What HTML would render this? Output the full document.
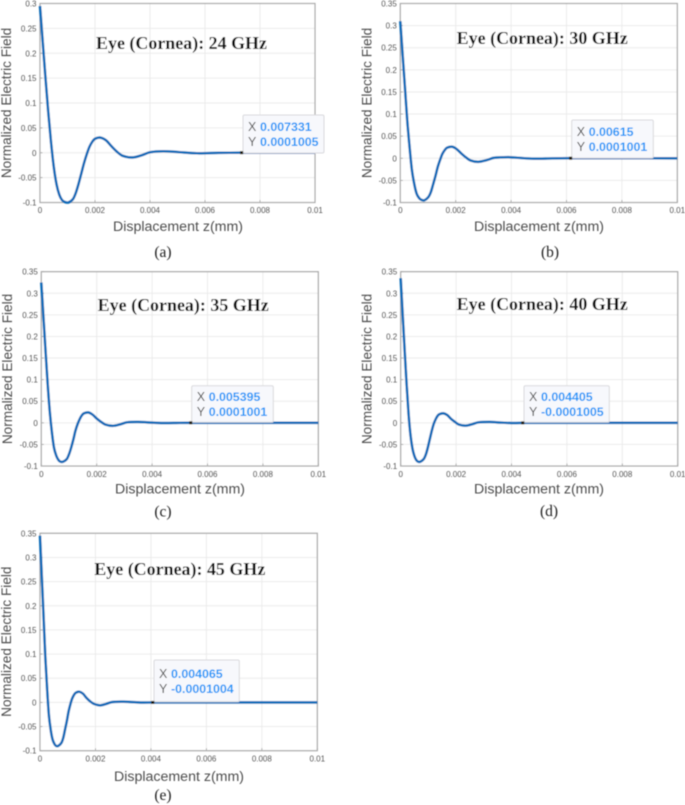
<!DOCTYPE html>
<html lang="en">
<head>
<meta charset="utf-8">
<title>Eye (Cornea) normalized electric field</title>
<style>
html,body{margin:0;padding:0;background:#fff;width:685px;height:805px;overflow:hidden}
svg{display:block}
text{font-family:"Liberation Sans",sans-serif}
.serif{font-family:"Liberation Serif",serif}
</style>
</head>
<body>
<svg id="figure" width="685" height="805" viewBox="0 0 685 805" xmlns="http://www.w3.org/2000/svg">
<defs><filter id="soft" x="-5%" y="-5%" width="110%" height="110%"><feGaussianBlur stdDeviation="0.45"/></filter></defs>
<g id="root" filter="url(#soft)"></g>
</svg>
<script>
const xTickLabels = ['0','0.002','0.004','0.006','0.008','0.01'];
const yTickLabels30 = ['-0.1','-0.05','0','0.05','0.1','0.15','0.2','0.25','0.3'];
const yTickLabels35 = ['-0.1','-0.05','0','0.05','0.1','0.15','0.2','0.25','0.3','0.35'];

const zA = [0,.0001,.0002,.0003,.0004,.0005,.0006,.0007,.0008,.0009,.00103,.0012,.0013,.0014,.0015,.0016,.0017,.0018,.0019,.002,.00218,.0024,.0026,.0028,.003,.00336,.0037,.004,.00448,.005,.0057,.0065,.0073,.01];
const fieldA = [.295,.222,.150,.082,.022,-.028,-.063,-.084,-.095,-.099,-.1,-.093,-.081,-.063,-.042,-.021,-.003,.012,.022,.028,.0305,.025,.013,.002,-.006,-.0095,-.005,.001,.003,.0015,-.001,-.0002,.0001,0];

const zB = [0,.000085,.00017,.00025,.00034,.00042,.00051,.00059,.00068,.00076,.00087,.00101,.0011,.00118,.00127,.00135,.00144,.00152,.00161,.00169,.00188,.00203,.0022,.00237,.00254,.00282,.00313,.00338,.0039,.00423,.00482,.00549,.00615,.01];
const fieldB = [.31,.233,.158,.086,.022,-.027,-.060,-.080,-.090,-.094,-.095,-.088,-.077,-.060,-.040,-.020,-.003,.010,.019,.024,.026,.021,.011,.002,-.005,-.008,-.004,.001,.0025,.0012,-.001,-.0002,.0001,0];

const zC = [0,.000077,.000154,.00023,.00031,.00039,.00046,.00054,.00062,.00069,.00079,.00092,.001,.00108,.00116,.00123,.00131,.00139,.00146,.00154,.0017,.00185,.002,.00216,.00231,.00258,.00285,.00308,.0035,.00385,.00439,.005,.0054,.01];
const fieldC = [.325,.245,.166,.090,.023,-.026,-.058,-.076,-.086,-.090,-.090,-.084,-.073,-.057,-.038,-.019,-.003,.009,.017,.022,.024,.019,.010,.002,-.004,-.007,-.0035,.001,.002,.001,-.0006,-.0001,.0001,0];

const zD = [0,.00007,.00014,.00021,.00028,.00035,.00042,.00049,.00056,.00063,.00071,.00083,.00091,.00098,.00105,.00112,.00119,.00126,.00133,.0014,.00154,.00168,.00182,.00196,.0021,.00235,.00259,.0028,.00322,.0035,.004,.0045,.0051,.01];
const fieldD = [.335,.252,.171,.093,.024,-.026,-.058,-.076,-.086,-.090,-.090,-.084,-.073,-.057,-.038,-.019,-.003,.008,.016,.020,.022,.018,.009,.002,-.004,-.0065,-.003,.001,.002,.001,-.0005,-.0001,-.0001,0];

const zE = [0,.000065,.00013,.00019,.00026,.00032,.00039,.00045,.00052,.00058,.00066,.00077,.00084,.0009,.00097,.00103,.0011,.00116,.00123,.00129,.00142,.00155,.00168,.00181,.00194,.00216,.00239,.00258,.003,.00323,.00368,.00406,.0045,.01];
const fieldE = [.345,.26,.176,.096,.025,-.026,-.058,-.076,-.086,-.090,-.090,-.084,-.073,-.057,-.038,-.019,-.003,.008,.016,.020,.022,.018,.009,.002,-.003,-.006,-.003,.0005,.0015,.001,-.0003,-.0001,-.0001,0];

const tipXA = 0.007331, tipYA = 0.0001005;
const tipXB = 0.00615, tipYB = 0.0001001;
const tipXC = 0.005395, tipYC = 0.0001001;
const tipXD = 0.004405, tipYD = -0.0001005;
const tipXE = 0.004065, tipYE = -0.0001004;

const panels = [
  {id:'a',ghz:'24',z:zA,f:fieldA,tx:tipXA,ty:tipYA,tipXText:'0.007331',tipYText:'0.0001005',yTicks:yTickLabels30,yMax:.3,
   L:40,R:315,T:3.5,B:202.5,titleX:96,titleY:49,capX:163,capY:257,xlX:178,xlY:231,ylX:11,ylY:103,tickY:213,box:[243,115,81,38]},
  {id:'b',ghz:'30',z:zB,f:fieldB,tx:tipXB,ty:tipYB,tipXText:'0.00615',tipYText:'0.0001001',yTicks:yTickLabels35,yMax:.35,
   L:400.3,R:677.3,T:3.5,B:202.5,titleX:456.7,titleY:44,capX:550,capY:257,xlX:539,xlY:231,ylX:371.7,ylY:103,tickY:213,box:[571.7,120,81.6,38]},
  {id:'c',ghz:'35',z:zC,f:fieldC,tx:tipXC,ty:tipYC,tipXText:'0.005395',tipYText:'0.0001001',yTicks:yTickLabels35,yMax:.35,
   L:41.3,R:318.3,T:271.7,B:466,titleX:97.7,titleY:311,capX:163,capY:516.5,xlX:180,xlY:493.5,ylX:12,ylY:369,tickY:477,box:[191.7,385.7,81.6,36.5]},
  {id:'d',ghz:'40',z:zD,f:fieldD,tx:tipXD,ty:tipYD,tipXText:'0.004405',tipYText:'-0.0001005',yTicks:yTickLabels35,yMax:.35,
   L:400.7,R:677.7,T:271.7,B:466,titleX:456.7,titleY:310,capX:549,capY:516,xlX:539,xlY:493.5,ylX:371.7,ylY:369,tickY:477,box:[524,385.7,85.3,36.5]},
  {id:'e',ghz:'45',z:zE,f:fieldE,tx:tipXE,ty:tipYE,tipXText:'0.004065',tipYText:'-0.0001004',yTicks:yTickLabels35,yMax:.35,
   L:40,R:317.3,T:533.3,B:750.7,titleX:94.3,titleY:575,capX:163,capY:800,xlX:179,xlY:781,ylX:11,ylY:641.7,tickY:761.7,box:[154,660,85.3,41.7]}
];

const NS = 'http://www.w3.org/2000/svg';
const root = document.getElementById('root');
function mk(parent, tag, attrs, txt){
  const n = document.createElementNS(NS, tag);
  for (const k in attrs) n.setAttribute(k, attrs[k]);
  if (txt !== undefined) n.textContent = txt;
  parent.appendChild(n);
  return n;
}
function smoothPath(pts){
  let d = 'M' + pts[0][0].toFixed(2) + ' ' + pts[0][1].toFixed(2);
  for (let i = 0; i < pts.length - 1; i++){
    const p0 = pts[Math.max(i-1,0)], p1 = pts[i], p2 = pts[i+1], p3 = pts[Math.min(i+2,pts.length-1)];
    const h = p2[0]-p1[0];
    const m1 = (p2[1]-p0[1])/((p2[0]-p0[0])||1);
    const m2 = (p3[1]-p1[1])/((p3[0]-p1[0])||1);
    d += 'C' + (p1[0]+h/3).toFixed(2) + ' ' + (p1[1]+m1*h/3).toFixed(2) + ' ' +
         (p2[0]-h/3).toFixed(2) + ' ' + (p2[1]-m2*h/3).toFixed(2) + ' ' +
         p2[0].toFixed(2) + ' ' + p2[1].toFixed(2);
  }
  return d;
}

panels.forEach(function(p){
  const sx = function(v){ return p.L + (v/0.01)*(p.R-p.L); };
  const sy = function(v){ return p.B - ((v+0.1)/(p.yMax+0.1))*(p.B-p.T); };

  const g = mk(root,'g',{});
  
  

  const bg = mk(g,'rect',{x:p.L,y:p.T,width:p.R-p.L,height:p.B-p.T,fill:'#fff'});
  
  

  xTickLabels.forEach(function(lab){
    const v = parseFloat(lab), x = sx(v);
    const gl = mk(g,'line',{x1:x,x2:x,y1:p.T,y2:p.B,stroke:'#ebebeb','stroke-width':1});
    
    
    mk(g,'line',{x1:x,x2:x,y1:p.B,y2:p.B-2.5,stroke:'#999','stroke-width':.8});
    const t = mk(g,'text',{x:x,y:p.tickY,'font-size':8,fill:'#555','text-anchor':'middle'},lab);
    
    
  });
  p.yTicks.forEach(function(lab){
    const v = parseFloat(lab), y = sy(v);
    const gl = mk(g,'line',{x1:p.L,x2:p.R,y1:y,y2:y,stroke:'#ebebeb','stroke-width':1});
    
    
    mk(g,'line',{x1:p.L,x2:p.L+2.5,y1:y,y2:y,stroke:'#999','stroke-width':.8});
    const t = mk(g,'text',{x:p.L-3.5,y:y+3,'font-size':8,fill:'#555','text-anchor':'end'},lab);
    
    
  });

  const frame = mk(g,'rect',{x:p.L,y:p.T,width:p.R-p.L,height:p.B-p.T,fill:'none',stroke:'#a9a9a9','stroke-width':1.2});
  
  

  const pts = p.z.map(function(z,i){ return [sx(z), sy(p.f[i])]; });
  const line = mk(g,'path',{d:smoothPath(pts),fill:'none',stroke:'#0a6cb8','stroke-width':2.6,'stroke-linejoin':'round'});
  
  

  const title = mk(g,'text',{x:p.titleX,y:p.titleY,'font-size':17.5,'font-weight':'bold',fill:'#111','class':'serif','textLength':171,'lengthAdjust':'spacingAndGlyphs'},'Eye (Cornea): ' + p.ghz + ' GHz');
  
  

  const xl = mk(g,'text',{x:p.xlX,y:p.xlY,'font-size':14.2,fill:'#4d4d4d','text-anchor':'middle'},'Displacement z(mm)');
  
  

  const yl = mk(g,'text',{x:p.ylX,y:p.ylY,'font-size':13.6,fill:'#4d4d4d','text-anchor':'middle',transform:'rotate(-90 ' + p.ylX + ' ' + p.ylY + ')'},'Normalized Electric Field');
  
  

  const tip = mk(g,'g',{});
  
  
  const b = p.box;
  const tipBox = mk(tip,'rect',{x:b[0],y:b[1],width:b[2],height:b[3],rx:1.5,fill:'#f7f8fc',stroke:'#d9d9dd','stroke-width':1});
  
  
  const mid = b[1] + b[3]/2;
  const xLabel = mk(tip,'text',{x:b[0]+5,y:mid-3,'font-size':12.5,fill:'#4d4d4d'},'X');
  
  
  const xVal = mk(tip,'text',{x:b[0]+17,y:mid-3,'font-size':12.4,'font-weight':'bold',fill:'#1498f8'},p.tipXText);
  
  
  const yLabel = mk(tip,'text',{x:b[0]+5,y:mid+12,'font-size':12.5,fill:'#4d4d4d'},'Y');
  
  
  const yVal = mk(tip,'text',{x:b[0]+17,y:mid+12,'font-size':12.4,'font-weight':'bold',fill:'#1498f8'},p.tipYText);
  
  

  const marker = mk(g,'rect',{x:sx(p.tx)-1.5,y:sy(p.ty)-1.5,width:3,height:3,fill:'#1a1405'});
  
  

  const cap = mk(g,'text',{x:p.capX,y:p.capY,'font-size':15.5,fill:'#222','text-anchor':'middle','class':'serif'},'(' + p.id + ')');
  
  
});
</script>
</body>
</html>
